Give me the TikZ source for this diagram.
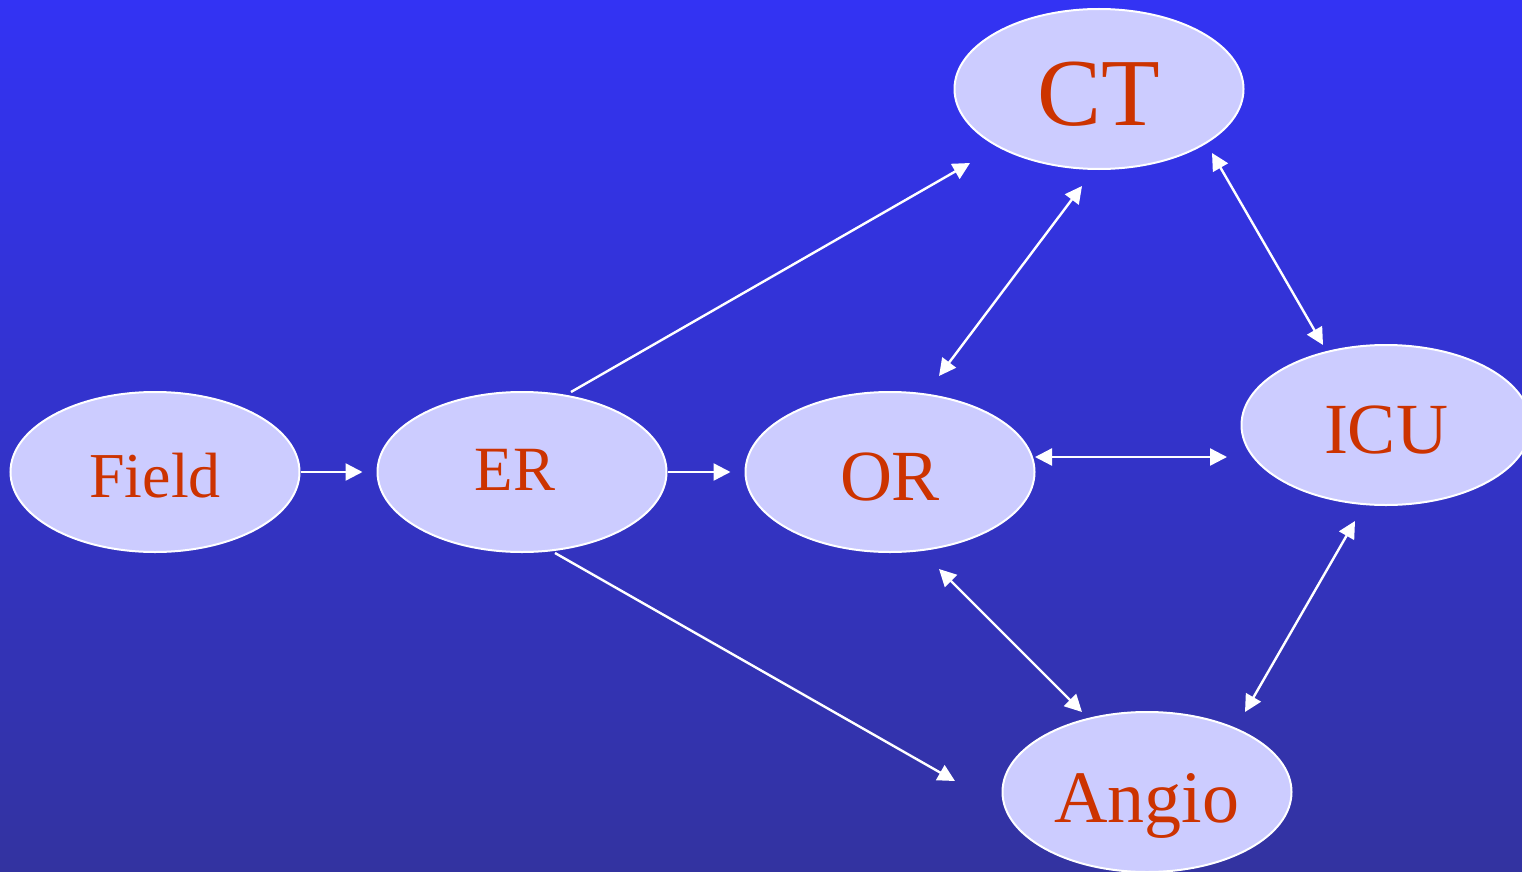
\documentclass[tikz,border=0pt]{standalone}
\usepackage{fontspec}
\setmainfont{Liberation Serif}
\usetikzlibrary{arrows.meta,shapes.geometric}
\definecolor{bgtop}{HTML}{3333F4}
\definecolor{bgbot}{HTML}{3333A0}
\definecolor{blobfill}{HTML}{CCCCFF}
\definecolor{lbltext}{HTML}{CC3300}
\tikzset{
  blob/.style={ellipse, draw=white, line width=2pt, fill=blobfill,
    minimum width=289pt, minimum height=160pt, inner sep=0pt},
  lbl/.style={text=lbltext, anchor=base, inner sep=0pt},
  tip/.style={Triangle[length=17pt,width=17pt]},
  arr/.style={draw=white, line width=2.4pt, -{Triangle[length=17pt,width=17pt]}},
  darr/.style={draw=white, line width=2.4pt, {Triangle[length=17pt,width=17pt]}-{Triangle[length=17pt,width=17pt]}},
}
\begin{document}
\begin{tikzpicture}[x=1pt,y=-1pt]
  \useasboundingbox (0,0) rectangle (1522,872);
  \clip (0,0) rectangle (1522,872);
  \shade[top color=bgtop, bottom color=bgbot] (0,0) rectangle (1522,872);

  % locations
  \node[blob] (field) at (155,472) {};
  \node[blob] (er)    at (522,472) {};
  \node[blob] (or)    at (890,472) {};
  \node[blob] (ct)    at (1099,89) {};
  \node[blob] (icu)   at (1386,425) {};
  \node[blob] (angio) at (1147,792) {};

  \node[lbl, font=\fontsize{64}{64}\selectfont] (field-t) at (155,497) {Field};
  \node[lbl, font=\fontsize{63}{63}\selectfont] (er-t)    at (515,490) {ER};
  \node[lbl, font=\fontsize{72}{72}\selectfont] (or-t)    at (890,500) {OR};
  \node[lbl, font=\fontsize{96}{96}\selectfont] (ct-t)    at (1099,125) {CT};
  \node[lbl, font=\fontsize{72}{72}\selectfont] (icu-t)   at (1386,453) {ICU};
  \node[lbl, font=\fontsize{74}{74}\selectfont] (angio-t) at (1147,822) {Angio};

  % connector ends
  \coordinate (er-up)    at (571,392);
  \coordinate (ct-in)    at (970,163);
  \coordinate (er-down)  at (555,553);
  \coordinate (angio-in) at (955,781);
  \coordinate (or-ct-a)  at (939,376);
  \coordinate (or-ct-b)  at (1082,186);
  \coordinate (ct-icu-a) at (1212,153);
  \coordinate (ct-icu-b) at (1323,345);
  \coordinate (or-icu-a) at (1035,457);
  \coordinate (or-icu-b) at (1227,457);
  \coordinate (or-an-a)  at (939,569);
  \coordinate (or-an-b)  at (1082,712);
  \coordinate (icu-an-a) at (1355,521);
  \coordinate (icu-an-b) at (1245,712);

  % flows
  \draw[arr] (field.east) -- ([xshift=-14pt]er.west);
  \draw[arr] (er.east) -- ([xshift=-14pt]or.west);
  \draw[arr] (er-up) -- (ct-in);
  \draw[arr] (er-down) -- (angio-in);
  \draw[darr] (or-ct-a) -- (or-ct-b);
  \draw[darr] (ct-icu-a) -- (ct-icu-b);
  \draw[darr] (or-icu-a) -- (or-icu-b);
  \draw[darr] (or-an-a) -- (or-an-b);
  \draw[darr] (icu-an-a) -- (icu-an-b);
\end{tikzpicture}
\end{document}
